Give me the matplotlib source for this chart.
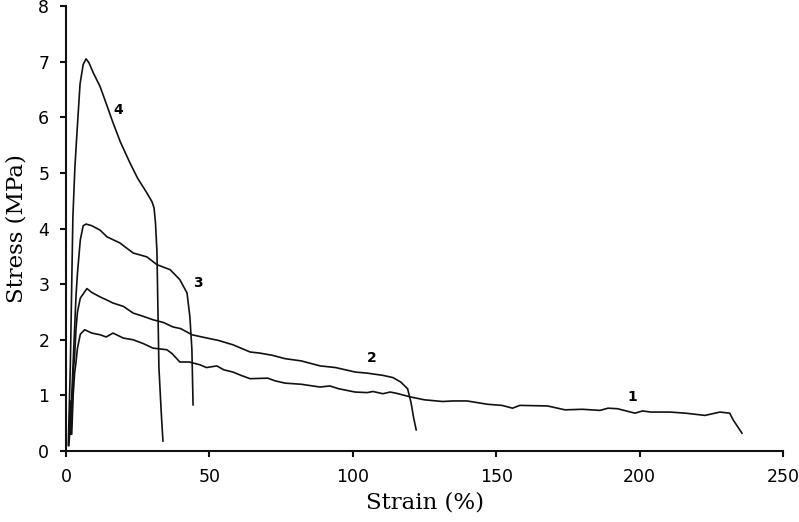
import matplotlib
matplotlib.use("Agg")
import matplotlib.pyplot as plt

# Curve 1
strain_1 = [1.0, 1.5, 2.0, 2.5, 3.0, 3.5, 4.0, 5.0, 6.5, 9.0, 11.9, 14.0, 16.4, 20.0, 23.4, 27.0,
            30.3, 35.2, 37.0, 39.7, 43.0, 46.7, 49.0, 52.6, 55.0, 58.2, 61.0, 64.2, 70.3, 73.0,
            76.4, 82.0, 88.6, 92.0, 95.0, 100.8, 105.0, 107.0, 110.5, 113.0, 115.0, 120.3, 125.0,
            131.3, 135.0, 139.8, 147.0, 152.0, 155.7, 158.2, 167.9, 174.0, 180.0, 186.2, 189.0,
            192.3, 198.4, 201.0, 204.0, 210.6, 216.0, 222.8, 228.0, 231.4, 232.6, 235.7]
stress_1 = [0.1, 0.5, 0.3, 1.0, 1.4, 1.6, 1.85, 2.1, 2.18, 2.12, 2.09, 2.05, 2.12, 2.03, 2.0, 1.93,
            1.85, 1.82, 1.75, 1.6, 1.6, 1.55, 1.50, 1.53, 1.46, 1.42, 1.36, 1.30, 1.31, 1.26,
            1.22, 1.2, 1.15, 1.17, 1.12, 1.06, 1.05, 1.07, 1.03, 1.06, 1.04, 0.97, 0.92,
            0.89, 0.90, 0.90, 0.84, 0.82, 0.77, 0.82, 0.81, 0.74, 0.75, 0.73, 0.77,
            0.76, 0.68, 0.72, 0.70, 0.70, 0.68, 0.64, 0.70, 0.68, 0.56, 0.32]

# Curve 2
strain_2 = [1.0, 1.5, 2.0, 2.5, 3.0, 3.5, 4.0, 5.0, 7.3, 9.0, 11.9, 14.0, 16.4, 20.0, 23.4, 27.0,
            30.3, 34.0, 37.3, 40.0, 43.9, 49.2, 53.0, 58.2, 64.2, 67.6, 72.0, 76.4, 82.0, 88.6,
            94.0, 100.8, 105.0, 110.5, 114.0, 116.7, 119.1, 120.3, 121.2, 122.1]
stress_2 = [0.2, 0.9, 0.5, 1.4, 1.7, 2.2, 2.5, 2.75, 2.92, 2.85, 2.77, 2.72, 2.66, 2.6, 2.48, 2.42,
            2.36, 2.31, 2.23, 2.20, 2.09, 2.03, 1.99, 1.91, 1.78, 1.76, 1.72, 1.66, 1.62, 1.53,
            1.50, 1.42, 1.40, 1.36, 1.32, 1.24, 1.12, 0.87, 0.6, 0.38]

# Curve 3
strain_3 = [1.5, 2.0, 2.5, 3.0, 3.5, 4.0, 5.0, 6.0, 7.0, 9.0, 11.9, 14.3, 18.8, 23.4, 28.2, 31.7,
            36.3, 39.7, 42.2, 43.2, 43.9, 44.3]
stress_3 = [0.3, 1.0, 1.6, 2.2, 2.8, 3.2, 3.8, 4.05, 4.08, 4.05, 3.97, 3.85, 3.74, 3.56, 3.49, 3.35,
            3.26, 3.08, 2.84, 2.41, 1.82, 0.83]

# Curve 4
strain_4 = [0.8, 1.5, 2.0, 2.4, 3.1, 3.8, 4.9, 6.0, 7.0, 8.0, 9.5, 11.9, 14.0, 16.4, 19.0, 22.3,
            25.0, 28.2, 30.0, 30.7, 31.2, 31.7, 32.4, 33.2, 33.8]
stress_4 = [0.1, 1.5, 3.0, 4.2, 5.1, 5.7, 6.6, 6.95, 7.05, 6.98, 6.8, 6.55, 6.25, 5.9, 5.55, 5.18,
            4.9, 4.64, 4.48, 4.37, 4.1, 3.6, 1.5, 0.7, 0.18]

curve_labels = ["1", "2", "3", "4"]
label_pos_x = [197.4, 106.7, 46.0, 18.1]
label_pos_y = [0.97, 1.67, 3.02, 6.13]

fig = plt.figure(figsize=(7.99, 5.22), dpi=100)
ax = fig.add_axes([0.0826, 0.136, 0.8974, 0.8525])

for xs, ys in [(strain_1, stress_1), (strain_2, stress_2), (strain_3, stress_3), (strain_4, stress_4)]:
    ax.plot(xs, ys, color="#111111", linewidth=1.2)

for lab, lx, ly in zip(curve_labels, label_pos_x, label_pos_y):
    ax.text(lx, ly, lab, fontsize=10, fontweight="bold", ha="center", va="center",
            family="DejaVu Sans")

ax.set_xlim(0, 250)
ax.set_ylim(0, 8)
ax.set_xticks([0, 50, 100, 150, 200, 250])
ax.set_yticks(range(0, 9))

ax.spines["top"].set_visible(False)
ax.spines["right"].set_visible(False)
for s in ["left", "bottom"]:
    ax.spines[s].set_linewidth(1.5)
    ax.spines[s].set_color("#111111")

ax.tick_params(direction="out", length=4, width=1.5, labelsize=12.5, color="#111111", pad=8)
for lab in ax.get_xticklabels() + ax.get_yticklabels():
    lab.set_family("DejaVu Sans")

ax.set_xlabel("Strain (%)", fontsize=16.5, family="DejaVu Serif", labelpad=4)
ax.set_ylabel("Stress (MPa)", fontsize=16.5, family="DejaVu Serif", labelpad=8)

fig.savefig("out.png", dpi=100)
